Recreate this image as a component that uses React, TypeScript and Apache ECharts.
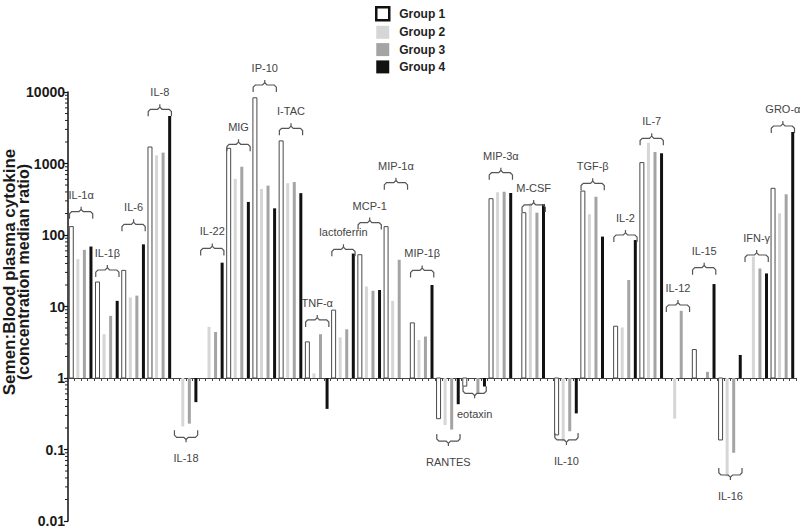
import React, { useEffect, useRef } from 'react';
import * as echarts from 'echarts';

// ---------- data ----------
const cytokines = ['IL-1α', 'IL-1β', 'IL-6', 'IL-8', 'IL-18', 'IL-22', 'MIG', 'IP-10', 'I-TAC', 'TNF-α', 'lactoferrin', 'MCP-1', 'MIP-1α', 'MIP-1β', 'RANTES', 'eotaxin', 'MIP-3α', 'M-CSF', 'IL-10', 'TGF-β', 'IL-2', 'IL-7', 'IL-12', 'IL-15', 'IL-16', 'IFN-γ', 'GRO-α'];
const groupNames = ['Group 1', 'Group 2', 'Group 3', 'Group 4'];
const group1 = [131, 22, 32, 1700, null, null, 1630, 8300, 2070, 3.2, 8.9, 53, 131, 5.9, 0.27, 0.77, 322, 205, 0.16, 412, 5.3, 1030, null, 2.5, 0.136, null, 450];
const group2 = [46, 4.1, 13.4, 1300, 0.21, 5.2, 610, 440, 530, 1.16, 3.7, 19, 12, 3.4, 0.22, null, 396, 277, 0.13, 195, 5.1, 1950, 0.27, null, 0.042, 50, 201];
const group3 = [62, 7.4, 14.2, 1420, 0.23, 4.4, 900, 490, 550, 4.1, 4.8, 16.6, 45, 3.8, 0.19, 0.61, 403, 205, 0.18, 343, 23.5, 1450, 8.7, 1.22, 0.09, 34, 371];
const group4 = [69, 12, 74, 4600, 0.46, 41, 290, 236, 385, 0.37, 55, 17, null, 20, 0.43, 0.76, 387, 269, 0.32, 95, 85, 1390, null, 20.6, 2.1, 29, 2760];
// axis value at which each cytokine's bracket/label is placed (below 1 = bracket under the bars)
const bracketLevel = [212, 32.4, 141, 5730, 0.148, 65, 1857, 12530, 3105, 6.5, 63, 149, 539, 32, 0.131, 0.61, 743, 263, 0.136, 528, 100, 2250, 10.5, 34.9, 0.044, 52.5, 3345];
const gapAfter = ['MIP-3α', 'M-CSF', 'TGF-β'];
const yTicks = [0.01, 0.1, 1, 10, 100, 1000, 10000];
const minorMultipliers = [2, 3, 4, 5, 6, 7, 8, 9];

// ---------- styles ----------
const FONT = 'Liberation Sans, Arial, sans-serif';
const barStyles = [
  { fill: '#ffffff', stroke: '#4a4a4a', lineWidth: 1, width: 4 },
  { fill: '#d6d6d6', stroke: null, lineWidth: 0, width: 3 },
  { fill: '#a4a4a4', stroke: null, lineWidth: 0, width: 3 },
  { fill: '#111111', stroke: null, lineWidth: 0, width: 3 },
];
const legendStyles = [
  { color: '#ffffff', borderColor: '#111', borderWidth: 2.5 },
  { color: '#d6d6d6', borderWidth: 0 },
  { color: '#a4a4a4', borderWidth: 0 },
  { color: '#111111', borderWidth: 0 },
];

export default function App() {
  const ref = useRef<HTMLDivElement>(null);

  useEffect(() => {
    if (!ref.current) return;
    const chart = echarts.init(ref.current, null, { renderer: 'svg' });

    // slot layout: 4 bars per cytokine, with an empty slot after some cytokines
    const slotStart: number[] = [];
    const slotNames: string[] = [];
    let s = 0;
    let gapN = 0;
    cytokines.forEach((c) => {
      slotStart.push(s);
      groupNames.forEach((g) => slotNames.push(c + ' ' + g));
      s += 4;
      if (gapAfter.includes(c)) {
        gapN += 1;
        slotNames.push('gap ' + gapN);
        s += 1;
      }
    });

    const groups = [group1, group2, group3, group4];
    const barSeries = groups.map((vals, gi) => {
      const st = barStyles[gi];
      const data: number[][] = [];
      vals.forEach((v, i) => {
        if (v !== null && v !== undefined) data.push([slotStart[i] + gi, v as number]);
      });
      return {
        type: 'custom',
        name: groupNames[gi],
        coordinateSystem: 'cartesian2d',
        itemStyle: { color: st.fill, borderColor: st.stroke || st.fill },
        data,
        z: 3,
        renderItem: (params: any, api: any) => {
          const slot = api.value(0);
          const v = api.value(1);
          const p = api.coord([slot, v]);
          const b = api.coord([slot, 1]);
          const y0 = Math.min(p[1], b[1]);
          const h = Math.abs(p[1] - b[1]);
          const style: any = { fill: st.fill };
          if (st.stroke) {
            style.stroke = st.stroke;
            style.lineWidth = st.lineWidth;
          }
          return {
            type: 'rect',
            shape: { x: p[0] - st.width / 2, y: y0, width: st.width, height: h },
            style,
          };
        },
      };
    });

    const bracketData = cytokines.map((c, i) => [slotStart[i], bracketLevel[i], i]);
    const bracketSeries = {
      type: 'custom',
      name: 'brackets',
      coordinateSystem: 'cartesian2d',
      data: bracketData,
      z: 4,
      silent: true,
      renderItem: (params: any, api: any) => {
        const s0 = api.value(0);
        const lvl = api.value(1);
        const idx = api.value(2);
        const pL = api.coord([s0, lvl]);
        const band = api.coord([s0 + 1, lvl])[0] - pL[0];
        const pR = api.coord([s0 + 3, lvl]);
        const x0 = pL[0] - band / 2 + 1.5;
        const x1 = pR[0] + band / 2 - 1.5;
        const y = pL[1];
        const d = lvl < 1 ? -1 : 1;
        const xm = (x0 + x1) / 2;
        const hook = 7;
        const nub = 5;
        const r = 2.2;
        const lineStyle = { stroke: '#555', lineWidth: 1.2, fill: null };
        return {
          type: 'group',
          children: [
            {
              type: 'polyline',
              shape: { points: [[x0, y + d * hook], [x0, y + d * r], [x0 + r, y], [xm - r, y], [xm, y - d * r], [xm, y - d * nub]] },
              style: lineStyle,
            },
            {
              type: 'polyline',
              shape: { points: [[xm, y - d * r], [xm + r, y], [x1 - r, y], [x1, y + d * r], [x1, y + d * hook]] },
              style: lineStyle,
            },
            {
              type: 'text',
              x: xm,
              y: d === 1 ? y - 17 : y + 21,
              style: {
                text: cytokines[idx],
                fill: '#444',
                font: '11px ' + FONT,
                align: 'center',
                verticalAlign: 'middle',
              },
            },
          ],
        };
      },
    };

    const minorData: number[][] = [];
    yTicks.slice(0, -1).forEach((dec) => {
      minorMultipliers.forEach((m) => minorData.push([0, Number((dec * m).toPrecision(6))]));
    });
    const minorSeries = {
      type: 'custom',
      name: 'minor',
      coordinateSystem: 'cartesian2d',
      data: minorData,
      silent: true,
      z: 5,
      renderItem: (params: any, api: any) => {
        const p = api.coord([0, api.value(1)]);
        const x = params.coordSys.x;
        return {
          type: 'line',
          shape: { x1: x - 3, y1: p[1], x2: x, y2: p[1] },
          style: { stroke: '#222', lineWidth: 1 },
        };
      },
    };

    const option: any = {
      animation: false,
      backgroundColor: '#ffffff',
      grid: { left: 68, right: 4, top: 92, bottom: 11, containLabel: false },
      legend: {
        orient: 'vertical',
        left: 370,
        top: 1,
        itemWidth: 13,
        itemHeight: 13,
        itemGap: 4.3,
        selectedMode: false,
        data: groupNames.map((g, i) => ({ name: g, icon: 'rect', itemStyle: legendStyles[i] })),
        textStyle: { fontSize: 12, fontWeight: 'bold', color: '#222', fontFamily: FONT, padding: [0, 0, 0, 5] },
      },
      xAxis: {
        type: 'category',
        data: slotNames,
        position: 'bottom',
        offset: -143,
        axisLine: { show: true, lineStyle: { color: '#444', width: 1 } },
        axisTick: { show: true, interval: 0, length: 3, lineStyle: { color: '#444', width: 1 } },
        axisLabel: { show: false },
        splitLine: { show: false },
      },
      yAxis: {
        type: 'log',
        logBase: 10,
        min: yTicks[0],
        max: yTicks[yTicks.length - 1],
        splitNumber: 6,
        axisLine: { show: true, lineStyle: { color: '#111', width: 1.5 } },
        axisTick: { show: true, length: 4, lineStyle: { color: '#111', width: 1.2 } },
        splitLine: { show: false },
        axisLabel: {
          margin: 3,
          fontSize: 14,
          fontWeight: 'bold',
          color: '#1a1a1a',
          fontFamily: FONT,
          formatter: (v: number) => String(Number(v.toPrecision(6))),
        },
      },
      graphic: [
        {
          type: 'text',
          x: 9,
          y: 272,
          rotation: Math.PI / 2,
          style: {
            text: 'Semen:Blood plasma cytokine',
            fill: '#1a1a1a',
            font: 'bold 17px ' + FONT,
            align: 'center',
            verticalAlign: 'middle',
          },
        },
        {
          type: 'text',
          x: 23,
          y: 272,
          rotation: Math.PI / 2,
          style: {
            text: '(concentration median ratio)',
            fill: '#1a1a1a',
            font: 'bold 16px ' + FONT,
            align: 'center',
            verticalAlign: 'middle',
          },
        },
      ],
      series: [...barSeries, bracketSeries, minorSeries],
    };

    chart.setOption(option);
    return () => chart.dispose();
  }, []);

  return (
    <div
      ref={ref}
      style={{ position: 'fixed', left: 0, top: 0, width: 800, height: 532, background: '#fff' }}
    />
  );
}
